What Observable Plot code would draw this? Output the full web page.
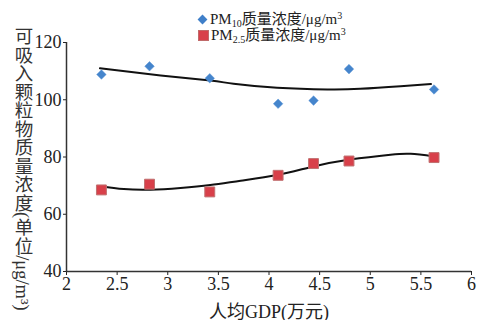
<!DOCTYPE html>
<html><head><meta charset="utf-8">
<script src="https://cdn.jsdelivr.net/npm/d3@7"></script>
<script src="https://cdn.jsdelivr.net/npm/@observablehq/plot@0.6"></script>
<style>
body{margin:0;background:#fff}
#chart{position:relative;width:481px;height:320px;font-family:"Liberation Serif","Noto Sans CJK SC",serif;color:#222}
#ylabel{position:absolute;left:13px;top:27px;writing-mode:vertical-rl;text-orientation:mixed;font-size:18.5px;line-height:18px;white-space:nowrap;color:#333}
#legend{position:absolute;left:197px;top:11px;font-size:15px;line-height:16px;white-space:nowrap}
#legend .row{display:flex;align-items:center;height:16px}
#legend sub{font-size:10px;vertical-align:-3px;line-height:0}
#legend sup{font-size:10px;vertical-align:5px;line-height:0}
#legend .dia{display:inline-block;width:7px;height:7px;background:#3f7fc9;transform:rotate(45deg);margin:0 4px 0 2px}
#legend .sq{display:inline-block;width:9px;height:9px;background:#d8404a;border:0.5px solid #c06a6a;margin:0 2px 0 1px}
</style>
</head><body>
<div id="chart">
  <div id="legend">
    <div class="row"><span class="dia"></span><span>PM<sub>10</sub>质量浓度/μg/m<sup>3</sup></span></div>
    <div class="row"><span class="sq"></span><span>PM<sub>2.5</sub>质量浓度/μg/m<sup>3</sup></span></div>
  </div>
  <div id="ylabel">可吸入颗粒物质量浓度(单位/μg/m³)</div>
</div>
<script>
const gdp = [2.345, 2.82, 3.415, 4.09, 4.44, 4.79, 5.63];
const pm10 = [108.8, 111.7, 107.5, 98.6, 99.7, 110.7, 103.6];
const pm25 = [68.5, 70.5, 67.8, 73.6, 77.7, 78.6, 79.8];
const pm10TrendX = [2.33, 2.93, 3.42, 3.65, 4.08, 4.575, 4.90, 5.30, 5.60];
const pm10Trend = [111.0, 108.5, 106.7, 105.6, 104.2, 103.6, 103.8, 104.7, 105.5];
const pm25TrendX = [2.336, 2.566, 2.83, 3.126, 3.42, 3.72, 4.08, 4.44, 4.80, 5.20, 5.40, 5.63];
const pm25Trend = [69.8, 68.8, 68.6, 69.2, 70.2, 71.7, 73.7, 76.7, 79.1, 80.8, 81.1, 80.2];
const xTicks = [2, 2.5, 3, 3.5, 4, 4.5, 5, 5.5, 6];
const yTicks = [40, 60, 80, 100, 120];

const pts10 = gdp.map((x, i) => ({x, y: pm10[i]}));
const pts25 = gdp.map((x, i) => ({x, y: pm25[i]}));
const tr10 = pm10TrendX.map((x, i) => ({x, y: pm10Trend[i]}));
const tr25 = pm25TrendX.map((x, i) => ({x, y: pm25Trend[i]}));

const plot = Plot.plot({
  width: 481, height: 320,
  marginLeft: 66, marginRight: 10, marginTop: 42, marginBottom: 49,
  style: {fontFamily: '"Liberation Serif","Noto Sans CJK SC",serif', fontSize: "18px", color: "#222", background: "transparent"},
  x: {domain: [2, 6]},
  y: {domain: [40, 120]},
  marks: [
    Plot.axisX({ticks: xTicks, tickFormat: d => String(d), tickSize: 4, tickPadding: 2, fontSize: 18,
      label: "人均GDP(万元)", labelAnchor: "center", labelArrow: "none", labelOffset: 46}),
    Plot.axisY({ticks: yTicks, tickFormat: d => String(d), tickSize: 3, tickPadding: 2, fontSize: 18, label: null}),
    Plot.ruleY([40], {stroke: "#333", strokeWidth: 1.5}),
    Plot.ruleX([2], {stroke: "#333", strokeWidth: 1.5}),
    Plot.line(tr10, {x: "x", y: "y", curve: "natural", stroke: "#111", strokeWidth: 2}),
    Plot.line(tr25, {x: "x", y: "y", curve: "natural", stroke: "#111", strokeWidth: 2}),
    Plot.dot(pts10, {x: "x", y: "y", symbol: "diamond2", r: 4.3, fill: "#4585cc", stroke: "#5a95d6", strokeWidth: 0.5}),
    Plot.dot(pts25, {x: "x", y: "y", symbol: "square", r: 5.6, fill: "#d8404a", stroke: "#c07070", strokeWidth: 1})
  ]
});
document.getElementById("chart").prepend(plot);
</script>
</body></html>
